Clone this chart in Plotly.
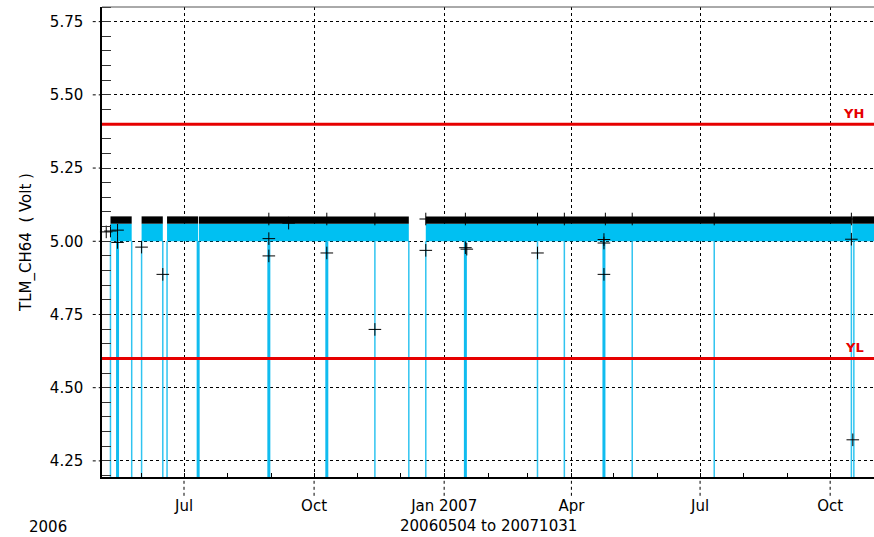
import pandas as pd
import plotly.graph_objects as go

# ---------------- data ----------------
# periods with telemetry coverage (start, end)
seg_start = ["2006-05-10 00:00", "2006-06-01 00:00", "2006-06-19 00:00", "2006-07-11 14:00",
             "2006-12-19 00:00", "2007-10-16 14:00"]
seg_end = ["2006-05-25 00:00", "2006-06-16 00:00", "2006-07-11 00:00", "2006-12-07 00:00",
           "2007-10-16 00:00", "2007-11-01 00:00"]
band_low = 5.00     # lower level of the dense data band
band_mid = 5.06     # boundary between the line band and the marker band
band_high = 5.085   # upper level of the dense data band

# dates of drop-outs (values far below the plotted range)
spike_thin_dates = ["2006-05-10", "2006-05-25", "2006-06-01", "2006-06-16",
                    "2006-06-19", "2006-11-13", "2006-12-07", "2006-12-19",
                    "2007-03-08", "2007-03-27", "2007-05-14", "2007-07-11",
                    "2007-10-16", "2007-10-17 18:00"]
spike_thick_dates = ["2006-05-15", "2006-07-11", "2006-08-30", "2006-10-10",
                     "2007-01-16", "2007-04-24"]
spike_low = 3.9

# individually visible samples
pt_dates = ["2006-05-07", "2006-05-10", "2006-05-15", "2006-05-15",
            "2006-06-01", "2006-06-16", "2006-08-30", "2006-08-30",
            "2006-09-13", "2006-10-10", "2006-11-13", "2006-12-19",
            "2007-01-16", "2007-01-17", "2007-03-08", "2007-04-24",
            "2007-04-24", "2007-04-24", "2007-10-16", "2007-10-17",
            "2006-08-30", "2006-10-10", "2006-11-13", "2006-12-19",
            "2007-01-16", "2007-03-08", "2007-03-27", "2007-04-25",
            "2007-05-14", "2007-07-11", "2007-10-16"]
pt_values = [5.032, 5.035, 5.038, 4.996,
             4.980, 4.887, 5.009, 4.950,
             5.062, 4.960, 4.699, 4.969,
             4.978, 4.973, 4.960, 5.006,
             4.994, 4.887, 5.007, 4.322,
             5.076, 5.076, 5.076, 5.076,
             5.076, 5.076, 5.076, 5.076,
             5.076, 5.076, 5.076]

YH = 5.40
YL = 4.60

x_range = ["2006-05-04", "2007-11-01"]
y_range = [4.195, 5.80]
y_ticks = [4.25, 4.50, 4.75, 5.00, 5.25, 5.50, 5.75]
x_tickvals = ["2006-07-01", "2006-10-01", "2007-01-01", "2007-04-01",
              "2007-07-01", "2007-10-01"]
x_ticktext = ["Jul", "Oct", "Jan 2007", "Apr", "Jul", "Oct"]

# ---------------- figure ----------------
FONT = "DejaVu Sans"
CYAN = "#00c0f2"
fig = go.Figure()

s = pd.to_datetime(pd.Series(seg_start), format="ISO8601")
e = pd.to_datetime(pd.Series(seg_end), format="ISO8601")
mid = (s + (e - s) / 2).dt.strftime("%Y-%m-%d %H:%M:%S").tolist()
width_ms = ((e - s).dt.total_seconds() * 1000).tolist()

fig.add_trace(go.Bar(x=mid, y=[band_mid - band_low] * len(mid), base=band_low,
                     width=width_ms, marker=dict(color=CYAN, line_width=0),
                     hoverinfo="skip"))
fig.add_trace(go.Bar(x=mid, y=[band_high - band_mid] * len(mid), base=band_mid,
                     width=width_ms, marker=dict(color="black", line_width=0),
                     hoverinfo="skip"))


def spikes(dates):
    xs, ys = [], []
    for d in dates:
        xs += [d, d, None]
        ys += [band_low, spike_low, None]
    return xs, ys


sx, sy = spikes(spike_thin_dates)
fig.add_trace(go.Scatter(x=sx, y=sy, mode="lines",
                         line=dict(color="#30c4f0", width=1.5), hoverinfo="skip"))
sx, sy = spikes(spike_thick_dates)
fig.add_trace(go.Scatter(x=sx, y=sy, mode="lines",
                         line=dict(color="#10bcef", width=3), hoverinfo="skip"))

fig.add_trace(go.Scatter(x=pt_dates, y=pt_values, mode="markers",
                         marker=dict(symbol="cross-thin", size=9,
                                     line=dict(color="black", width=1)),
                         cliponaxis=False))

# limit lines
for lvl, name in [(YH, "YH"), (YL, "YL")]:
    fig.add_shape(type="line", xref="paper", x0=0, x1=1, yref="y", y0=lvl, y1=lvl,
                  line=dict(color="#e60000", width=3), layer="above")
    fig.add_annotation(xref="paper", x=0.99, yref="y", y=lvl, text=f"<b>{name}</b>",
                       showarrow=False, xanchor="right", yanchor="bottom", yshift=1,
                       font=dict(family=FONT, size=13, color="#e60000"))

# dashed tick extensions outside the plot
for v in y_ticks:
    fig.add_shape(type="line", xref="paper", x0=-0.012, x1=0, yref="y", y0=v, y1=v,
                  line=dict(color="black", width=1, dash="3px,3px"))
for v in x_tickvals:
    fig.add_shape(type="line", xref="x", x0=v, x1=v, yref="paper", y0=-0.04, y1=0,
                  line=dict(color="black", width=1, dash="3px,3px"))
# top border
fig.add_shape(type="line", xref="paper", x0=0, x1=1, yref="paper", y0=1, y1=1,
              line=dict(color="#555555", width=1))

fig.add_annotation(xref="paper", yref="paper", x=-0.097, y=-0.106, text="2006",
                   showarrow=False, xanchor="left", yanchor="middle",
                   font=dict(family=FONT, size=15, color="black"))
fig.add_annotation(xref="paper", yref="paper", x=0.5, y=-0.104,
                   text="20060504 to 20071031", showarrow=False,
                   xanchor="center", yanchor="middle",
                   font=dict(family=FONT, size=15, color="black"))

fig.update_layout(
    width=874, height=537,
    margin=dict(l=102, r=0, t=7, b=60, autoexpand=False),
    paper_bgcolor="white", plot_bgcolor="white",
    showlegend=False, barmode="overlay",
    font=dict(family=FONT, size=15, color="black"),
    xaxis=dict(type="date", range=x_range, tickmode="array",
               tickvals=x_tickvals, ticktext=x_ticktext,
               showgrid=True, gridcolor="black", griddash="3px,3px", gridwidth=1,
               showline=True, linecolor="black", linewidth=1.5,
               ticks="", ticklabelstandoff=14, zeroline=False,
               minor=dict(dtick="M1", tick0="2006-06-01", ticks="inside",
                          ticklen=4, tickcolor="black", showgrid=False),
               tickfont=dict(family=FONT, size=15)),
    yaxis=dict(range=y_range, tickmode="array", tickvals=y_ticks,
               tickformat=".2f",
               showgrid=True, gridcolor="black", griddash="3px,3px", gridwidth=1,
               showline=True, linecolor="black", linewidth=1.5,
               ticks="", ticklabelstandoff=14, zeroline=False,
               minor=dict(dtick=0.05, tick0=4.25, ticks="inside", ticklen=9,
                          tickcolor="#333333", showgrid=False),
               title=dict(text="TLM_CH64\u00a0\u00a0(\u00a0Volt\u00a0)", standoff=15,
                          font=dict(family=FONT, size=15)),
               tickfont=dict(family=FONT, size=15)),
)

fig.write_html("out.html", config={"displayModeBar": False},
               post_script="document.body.style.margin='0';document.body.style.overflow='hidden';")
